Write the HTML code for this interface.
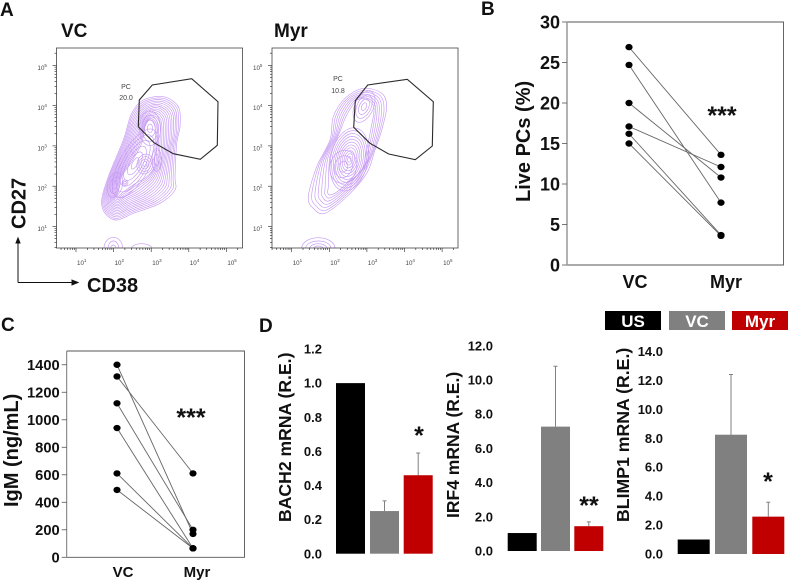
<!DOCTYPE html>
<html>
<head>
<meta charset="utf-8">
<title>Figure panels</title>
<style>
html,body{margin:0;padding:0;background:#fff;}
svg{display:block;font-family:"Liberation Sans",sans-serif;}
.b{font-weight:bold;fill:#111;}
</style>
</head>
<body>
<svg id="fig" width="788" height="580" viewBox="0 0 788 580" xmlns="http://www.w3.org/2000/svg">
<defs>
<clipPath id="clipVc"><rect x="56.5" y="48" width="186" height="200"/></clipPath>
<clipPath id="clipMyr"><rect x="272" y="48" width="186" height="200"/></clipPath>
</defs>
<text class="b" x="0" y="16" font-size="19">A</text>
<text class="b" x="481" y="15" font-size="19">B</text>
<text class="b" x="1" y="331" font-size="19">C</text>
<text class="b" x="259" y="332" font-size="19">D</text>
<text class="b" x="61" y="37" font-size="19">VC</text>
<text class="b" x="274" y="37" font-size="19">Myr</text>
<text class="b" transform="translate(25.5,229) rotate(-90)" font-size="20">CD27</text>
<text class="b" x="87" y="292" font-size="20">CD38</text>
<g stroke="#111" fill="#111" stroke-width="1">
<path d="M18 282.5V242" fill="none"/><path d="M18 238l-2 5h4z"/>
</g>
<g stroke="#111" fill="#111" stroke-width="1">
<path d="M18 282.5H74" fill="none"/><path d="M78 282.5l-6-2.4v4.8z"/>
</g>
<g id="flowVc"></g>
<g id="flowMyr"></g>
<text x="126" y="89" font-size="7" fill="#444" text-anchor="middle">PC</text>
<text x="126" y="100" font-size="7" fill="#444" text-anchor="middle">20.0</text>
<text x="338" y="81" font-size="7" fill="#444" text-anchor="middle">PC</text>
<text x="338" y="93" font-size="7" fill="#444" text-anchor="middle">10.8</text>
<g id="chartB"></g>
<text class="b" transform="translate(530,202) rotate(-90)" font-size="20">Live PCs (%)</text>
<text class="b" x="722" y="124" font-size="25" text-anchor="middle">***</text>
<g id="chartC"></g>
<text class="b" transform="translate(18,507) rotate(-90)" font-size="20">IgM (ng/mL)</text>
<text class="b" x="191" y="426" font-size="25" text-anchor="middle">***</text>
<g id="chartD1"></g>
<g id="chartD2"></g>
<g id="chartD3"></g>
<text class="b" transform="translate(291,522) rotate(-90)" font-size="17.6">BACH2 mRNA (R.E.)</text>
<text class="b" transform="translate(459,518) rotate(-90)" font-size="17.5">IRF4 mRNA (R.E.)</text>
<text class="b" transform="translate(629,522) rotate(-90)" font-size="17.7">BLIMP1 mRNA (R.E.)</text>
<text class="b" x="419" y="444" font-size="25" text-anchor="middle">*</text>
<text class="b" x="589" y="514" font-size="25" text-anchor="middle">**</text>
<text class="b" x="768" y="490" font-size="25" text-anchor="middle">*</text>
<g font-weight="bold" font-size="17" fill="#fff" text-anchor="middle">
<rect x="605" y="311" width="56" height="19" fill="#000"/>
<text x="633" y="327">US</text>
<rect x="669" y="311" width="56" height="19" fill="#808080"/>
<text x="697" y="327">VC</text>
<rect x="732" y="311" width="56" height="19" fill="#c00000"/>
<text x="760" y="327">Myr</text>
</g>
</svg>
<script>
// ---------- chart data ----------
var pairCategories = ['VC', 'Myr'];
var livePcsVc = [26.9, 24.7, 20.0, 17.1, 16.2, 15.0];
var livePcsMyr = [13.6, 7.7, 10.8, 12.1, 3.7, 3.6];
var livePcsTicks = [0, 5, 10, 15, 20, 25, 30];
var igmVc = [1400, 1315, 1120, 940, 610, 490];
var igmMyr = [170, 610, 200, 65, 65, 65];
var igmTicks = [0, 200, 400, 600, 800, 1000, 1200, 1400];
var bach2Values = [1.0, 0.25, 0.46];
var bach2Errors = [0, 0.06, 0.13];
var bach2Ticks = ['0.0', '0.2', '0.4', '0.6', '0.8', '1.0', '1.2'];
var irf4Values = [1.05, 7.27, 1.45];
var irf4Errors = [0, 3.53, 0.25];
var irf4Ticks = ['0.0', '2.0', '4.0', '6.0', '8.0', '10.0', '12.0'];
var blimp1Values = [1.0, 8.24, 2.58];
var blimp1Errors = [0, 4.16, 0.99];
var blimp1Ticks = ['0.0', '2.0', '4.0', '6.0', '8.0', '10.0', '12.0', '14.0'];
var barGroups = ['us', 'vc', 'myr'];
var logDecades = [1, 2, 3, 4, 5];

// ---------- flow contour outlines (3x coords) ----------
var vcOuter = [[305,600],[325,530],[370,420],[395,340],[430,300],[490,290],[535,320],[540,380],[530,430],[525,530],[525,570],[480,610],[400,640],[350,660],[315,640]];
var vcInner = [[355,575],[365,530],[395,485],[425,430],[435,380],[450,360],[465,380],[465,440],[462,500],[440,530],[410,548],[385,565],[365,580],[355,590],[350,585]];
var vcModes = [[405,490,45,115,29,6],[435,492,24,30,15,4],[375,548,9,8,0,2],[450,385,32,52,0,4],[345,555,22,38,15,3],[470,480,14,34,0,2]];
var vcBlobs = [[340,745,28,33],[340,745,16,22],[340,745,8,10],[425,745,30,14]];
var vcGate = [[418,300],[457,255],[575,236],[654,305],[652,436],[601,478],[520,461],[462,428],[415,380]];
var myrOuter = [[175,590],[200,500],[240,420],[250,350],[285,295],[340,265],[395,280],[410,320],[395,390],[375,450],[350,520],[290,590],[225,640],[190,625]];
var myrInner = [[235,560],[240,470],[268,400],[290,345],[322,300],[352,300],[372,325],[362,390],[350,450],[335,510],[290,550],[262,575],[240,585],[232,575]];
var myrModes = [[298,478,56,96,12,11],[342,320,28,50,25,4],[280,500,40,50,15,3]];
var myrBlobs = [[205,745,50,32],[205,745,38,22],[205,745,26,14],[205,745,14,7]];
var myrGate = [[316,302],[353,255],[472,238],[550,305],[547,438],[496,479],[416,462],[360,430],[311,382]];

var NS = 'http://www.w3.org/2000/svg';
function mk(tag, attrs, parent, txt) {
  var e = document.createElementNS(NS, tag);
  for (var k in attrs) e.setAttribute(k, attrs[k]);
  if (txt !== undefined) e.textContent = txt;
  parent.appendChild(e);
  return e;
}
function g(id) { return document.getElementById(id); }
function linear(d0, d1, r0, r1) { return function (v) { return r0 + (v - d0) / (d1 - d0) * (r1 - r0); }; }

// ---------- flow plots ----------
function smooth(pts) {
  var n = pts.length, d = 'M' + pts[0][0] + ' ' + pts[0][1];
  for (var i = 0; i < n; i++) {
    var p0 = pts[(i - 1 + n) % n], p1 = pts[i], p2 = pts[(i + 1) % n], p3 = pts[(i + 2) % n];
    d += 'C' + (p1[0] + (p2[0] - p0[0]) / 6).toFixed(1) + ' ' + (p1[1] + (p2[1] - p0[1]) / 6).toFixed(1) + ' ' +
      (p2[0] - (p3[0] - p1[0]) / 6).toFixed(1) + ' ' + (p2[1] - (p3[1] - p1[1]) / 6).toFixed(1) + ' ' +
      p2[0].toFixed(1) + ' ' + p2[1].toFixed(1);
  }
  return d + 'Z';
}
function flowPlot(root, clipId, box, xOrigin, outer, inner, levels, modes, blobs, gate) {
  var toX = function (v) { return v / 3 + xOrigin; };
  var toY = function (v) { return v / 3; };
  var cg = mk('g', { 'clip-path': 'url(#' + clipId + ')', fill: 'none', stroke: '#c79bf3', 'stroke-width': 0.65 }, root);
  
  
  for (var l = 0; l < levels; l++) {
    var t = l / (levels - 1), pts = [];
    for (var i = 0; i < outer.length; i++) {
      pts.push([toX(outer[i][0] + (inner[i][0] - outer[i][0]) * t), toY(outer[i][1] + (inner[i][1] - outer[i][1]) * t)]);
    }
    mk('path', { d: smooth(pts) }, cg);
  }
  modes.forEach(function (m) {
    for (var s = 0; s < m[5]; s++) {
      var f = 1 - s / m[5];
      mk('ellipse', { cx: 0, cy: 0, rx: (m[2] * f / 3).toFixed(2), ry: (m[3] * f / 3).toFixed(2),
        transform: 'translate(' + toX(m[0]) + ',' + toY(m[1]) + ') rotate(' + m[4] + ')' }, cg);
    }
  });
  blobs.forEach(function (b) {
    mk('ellipse', { cx: toX(b[0]), cy: toY(b[1]), rx: b[2] / 3, ry: b[3] / 3 }, cg);
  });
  var frame = mk('rect', { x: box.x, y: box.y, width: box.w, height: box.h, fill: 'none', stroke: '#444', 'stroke-width': 0.8 }, root);
  
  
  var gp = mk('polygon', { points: gate.map(function (p) { return toX(p[0]).toFixed(1) + ',' + toY(p[1]).toFixed(1); }).join(' '), fill: 'none', stroke: '#2b2b2b', 'stroke-width': 1.1 }, root);
  
  
  var ax = mk('g', { stroke: '#222', 'stroke-width': 0.6 }, root);
  
  
  var xLog = linear(1, 5, box.xTen, box.xTen + 4 * 37.6);
  var yLog = linear(1, 5, 226.5, 65.3);
  var bottom = box.y + box.h;
  [0].concat(logDecades).forEach(function (d) {
    for (var m = 1; m < 10; m++) {
      var v = d + Math.log10(m), x = xLog(v), y = yLog(v), len = m === 1 ? 4 : 2;
      if (x > box.x && x < box.x + box.w) mk('line', { x1: x, x2: x, y1: bottom, y2: bottom + len }, ax);
      if (y > box.y && y < bottom) mk('line', { x1: box.x, x2: box.x - len, y1: y, y2: y }, ax);
    }
  });
  logDecades.forEach(function (d) {
    var tx = mk('text', { x: xLog(d) + 1, y: 265, 'font-size': 6.2, fill: '#444', stroke: 'none' }, ax, '10');
    
    
    mk('tspan', { dy: -3, 'font-size': 4.5 }, tx, String(d));
    var ty = mk('text', { x: box.x - 19, y: yLog(d) + 4.5, 'font-size': 6.2, fill: '#444', stroke: 'none' }, ax, '10');
    
    
    mk('tspan', { dy: -3, 'font-size': 4.5 }, ty, String(d));
  });
}
flowPlot(g('flowVc'), 'clipVc', { x: 56.5, y: 48, w: 186, h: 200, xTen: 76 }, 0, vcOuter, vcInner, 16, vcModes, vcBlobs, vcGate);
flowPlot(g('flowMyr'), 'clipMyr', { x: 272, y: 48, w: 186, h: 200, xTen: 291.7 }, 250, myrOuter, myrInner, 7, myrModes, myrBlobs, myrGate);

// ---------- paired charts ----------
function pairedChart(root, o) {
  var y = linear(0, o.max, o.y0, o.yTop);
  var fr = mk('path', { d: o.frame, fill: 'none', stroke: '#555', 'stroke-width': 0.9 }, root);
  
  
  var la = mk('line', { x1: o.left, x2: o.left, y1: o.yTop, y2: o.y0, stroke: o.leftColor, 'stroke-width': o.leftWidth }, root);
  
  
  o.ticks.forEach(function (t) {
    var yy = y(t);
    var tk = mk('line', { x1: o.left - 5, x2: o.left, y1: yy, y2: yy, stroke: '#555', 'stroke-width': 0.8 }, root);
    
    
    var lb = mk('text', { x: o.left - 7, y: yy + o.tickFont * 0.36, 'font-size': o.tickFont, 'text-anchor': 'end', class: 'b' }, root, String(t));
    
    
  });
  o.a.forEach(function (v, i) {
    var ln = mk('line', { x1: o.xA, x2: o.xB, y1: y(v), y2: y(o.b[i]), stroke: '#666', 'stroke-width': 0.9 }, root);
    
    
  });
  o.a.forEach(function (v, i) {
    var p1 = mk('ellipse', { cx: o.xA, cy: y(v), rx: 3.6, ry: 3.2, fill: '#000' }, root);
    
    
    var p2 = mk('ellipse', { cx: o.xB, cy: y(o.b[i]), rx: 3.6, ry: 3.2, fill: '#000' }, root);
    
    
  });
  pairCategories.forEach(function (c, i) {
    var t = mk('text', { x: o.labelX[i], y: o.labelY, 'font-size': o.catFont, 'text-anchor': 'middle', class: 'b' }, root, c);
    
    
  });
}
pairedChart(g('chartB'), { max: 30, y0: 265, yTop: 22, left: 567, frame: 'M567 22H783.5V265H567', leftColor: '#aaa', leftWidth: 1.8,
  ticks: livePcsTicks, tickFont: 18, a: livePcsVc, b: livePcsMyr, xA: 629, xB: 721, labelX: [635, 726], labelY: 288, catFont: 18 });
pairedChart(g('chartC'), { max: 1500, y0: 557.3, yTop: 351, left: 66.7, frame: 'M66.7 351H244.5V557.3H66.7', leftColor: '#777', leftWidth: 1,
  ticks: igmTicks, tickFont: 14.7, a: igmVc, b: igmMyr, xA: 117, xB: 193, labelX: [123, 197], labelY: 577, catFont: 15 });

// ---------- bar charts ----------
var barColors = ['#000000', '#808080', '#c00000'];
function barChart(root, o) {
  var y = linear(0, o.max, o.y0, o.yTop);
  o.ticks.forEach(function (t) {
    var lb = mk('text', { x: o.labelRight, y: y(parseFloat(t)) + 4.6, 'font-size': 13, 'text-anchor': 'end', class: 'b' }, root, t);
    
    
  });
  o.values.forEach(function (v, i) {
    var x = o.barX[i], top = y(v), cx = x + o.barW / 2;
    var errTop = y(v + o.errors[i]);
    if (o.errors[i] > 0) {
      var eb = mk('path', { d: 'M' + cx + ' ' + top + 'V' + errTop + 'M' + (cx - 2) + ' ' + errTop + 'H' + (cx + 2), stroke: '#808080', 'stroke-width': 1, fill: 'none' }, root);
      
      
    }
    var b = mk('rect', { x: x, y: top, width: o.barW, height: o.y0 - top, fill: barColors[i] }, root);
    
    
  });
}
barChart(g('chartD1'), { max: 1.2, y0: 553.7, yTop: 349, labelRight: 322, ticks: bach2Ticks, values: bach2Values, errors: bach2Errors, barX: [336, 370, 403.7], barW: 29 });
barChart(g('chartD2'), { max: 12, y0: 551, yTop: 345.7, labelRight: 493, ticks: irf4Ticks, values: irf4Values, errors: irf4Errors, barX: [507.7, 541, 574.3], barW: 29 });
barChart(g('chartD3'), { max: 14, y0: 554, yTop: 351.3, labelRight: 663, ticks: blimp1Ticks, values: blimp1Values, errors: blimp1Errors, barX: [677.7, 715, 752.3], barW: 32 });
</script>
</body>
</html>
